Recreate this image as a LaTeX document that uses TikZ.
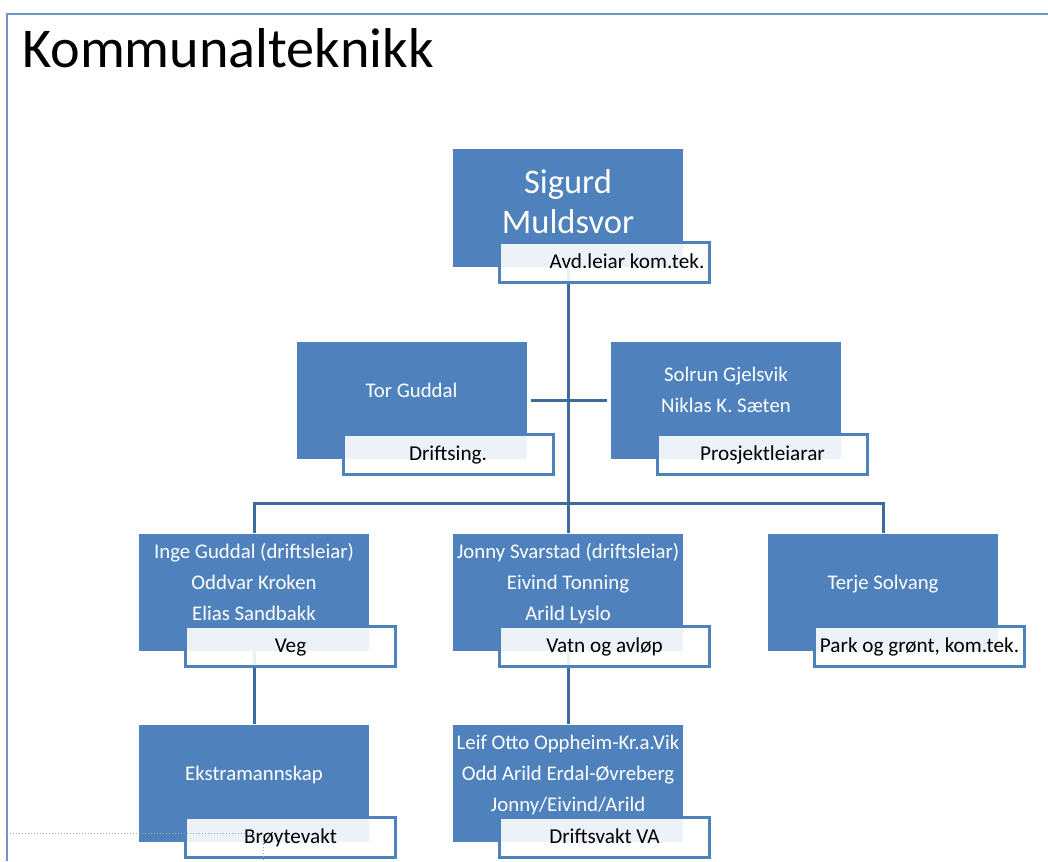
\documentclass[tikz,border=0pt]{standalone}
\usepackage{fontspec}
\setmainfont{Carlito}
\frenchspacing

\definecolor{boxblue}{RGB}{79,129,189}
\definecolor{linkblue}{RGB}{62,106,158}
\definecolor{frameblue}{RGB}{110,147,203}

% names in a box, lifted a little above the middle
\newcommand{\names}[2][4pt]{\raisebox{#1}[0pt][0pt]{\begin{tabular}{@{}c@{}}#2\end{tabular}}}

\begin{document}
\begin{tikzpicture}[x=1pt, y=-1pt, every node/.style={font=\fontsize{20.8}{31}\selectfont},
	person/.style={fill=boxblue, text=white, minimum width=230pt, minimum height=117pt, inner sep=0pt},
	tag/.style={draw=boxblue, line width=3pt, fill=white, fill opacity=0.9, text opacity=1, text=black, minimum width=210pt, minimum height=40pt, inner sep=0pt, font=\fontsize{21.2}{25}\selectfont, text height=13.6pt, text depth=0pt},
	link/.style={draw=linkblue, line width=3pt}]
	\useasboundingbox (0,0) rectangle (1048,861);
	\draw[frameblue, line width=2pt] (7,861) -- (7,14) -- (1048,14);
	\node[anchor=base west, inner sep=0pt, font=\fontsize{56.2}{66}\selectfont] (title) at (22,68) {Kommunalteknikk};

	\node[person, font=\fontsize{34.5}{40}\selectfont] (sig) at (568,208) {\names[-3.5pt]{Sigurd\\ Muldsvor}};
	\node[person] (tor) at (411.5,400) {\names{Tor Guddal}};
	\node[person] (sol) at (726,400) {\names{Solrun Gjelsvik\\ Niklas K. Sæten}};
	\node[person] (inge) at (254,592) {\names{Inge Guddal (driftsleiar)\\ Oddvar Kroken\\ Elias Sandbakk}};
	\node[person] (jonny) at (568,592) {\names{Jonny Svarstad (driftsleiar)\\ Eivind Tonning\\ Arild Lyslo}};
	\node[person] (terje) at (883,592) {\names{Terje Solvang}};
	\node[person] (ekstra) at (254,783) {\names{Ekstramannskap}};
	\node[person] (leif) at (568,783) {\names{Leif Otto Oppheim-Kr.a.Vik\\ Odd Arild Erdal-Øvreberg\\ Jonny/Eivind/Arild}};

	\coordinate (hub) at (568,503);
	\draw[link] (sig) -- (jonny);
	\draw[link, shorten <=4pt, shorten >=4pt] (tor) -- (sol);
	\draw[link] (inge) |- (hub) -| (terje);
	\draw[link] (inge) -- (ekstra);
	\draw[link] (jonny) -- (leif);

	\node[tag] (sig-tag) at ([shift={(36.5,54)}]sig) {\hspace*{45pt}Avd.leiar kom.tek.};
	\node[tag] (tor-tag) at ([shift={(36.5,54)}]tor) {Driftsing.};
	\node[tag] (sol-tag) at ([shift={(36.5,54)}]sol) {Prosjektleiarar};
	\node[tag] (inge-tag) at ([shift={(36.5,54)}]inge) {Veg};
	\node[tag] (jonny-tag) at ([shift={(36.5,54)}]jonny) {Vatn og avløp};
	\node[tag] (terje-tag) at ([shift={(36.5,54)}]terje) {Park og grønt, kom.tek.};
	\node[tag] (ekstra-tag) at ([shift={(36.5,54)}]ekstra) {Brøytevakt};
	\node[tag] (leif-tag) at ([shift={(36.5,54)}]leif) {Driftsvakt VA};

	\draw[gray!70, dotted, line width=1pt] (7,833) -| (263,861);
\end{tikzpicture}
\end{document}
